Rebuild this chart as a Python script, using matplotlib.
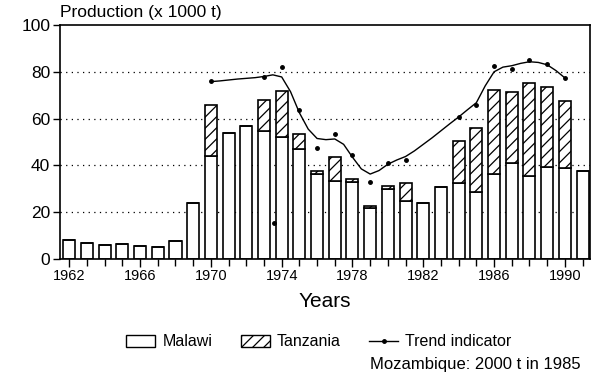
import matplotlib
matplotlib.use("Agg")
import matplotlib.pyplot as plt
from matplotlib.patches import Patch
from matplotlib.lines import Line2D

plt.rcParams['font.family'] = ['Liberation Sans', 'DejaVu Sans']
plt.rcParams['hatch.linewidth'] = 0.9

years = list(range(1962, 1992))
malawi = [8.0, 7.0, 6.1, 6.2, 5.5, 5.0, 7.6, 24.1, 43.9, 53.8, 56.8, 54.6, 52.1, 47.1,
          36.4, 33.5, 33.1, 21.9, 30.0, 24.9, 24.0, 30.8, 32.4, 28.8, 36.2, 41.2, 35.5,
          39.2, 38.7, 37.5]
total = [8.0, 7.0, 6.1, 6.2, 5.5, 5.0, 7.6, 24.1, 65.6, 53.8, 56.8, 67.9, 72.0, 53.3,
         37.7, 43.8, 34.4, 22.6, 31.0, 32.6, 24.0, 30.8, 50.6, 55.9, 72.1, 71.3, 75.1,
         73.4, 67.4, 37.5]
tanzania = [t - m for t, m in zip(total, malawi)]

trend_years = [1970, 1973, 1974, 1975, 1976, 1977, 1978, 1979, 1980, 1981,
               1984, 1985, 1986, 1987, 1988, 1989, 1990]
trend_points = [76.1, 77.9, 82.1, 63.5, 47.6, 53.5, 44.4, 33.0, 40.9, 42.2,
                60.6, 65.9, 82.3, 81.4, 85.0, 83.4, 77.3]
stray_years = [1973.56]
stray_points = [15.3]

curve_x = [1970.0, 1970.5, 1971.0, 1971.5, 1972.0, 1972.5, 1973.0, 1973.5, 1974.0,
           1974.5, 1975.0, 1975.5, 1976.0, 1976.5, 1977.0, 1977.5, 1978.0, 1978.5,
           1979.0, 1979.5, 1980.0, 1980.5, 1981.0, 1981.5, 1982.0, 1982.5, 1983.0,
           1983.5, 1984.0, 1984.5, 1985.0, 1985.5, 1986.0, 1986.5, 1987.0, 1987.5,
           1988.0, 1988.5, 1989.0, 1989.5, 1990.0]
curve_y = [75.8, 76.1, 76.5, 76.9, 77.2, 77.5, 78.0, 78.7, 77.8, 71.5, 62.5, 55.5,
           51.5, 51.0, 51.3, 49.0, 43.5, 38.5, 36.3, 37.8, 40.5, 42.3, 43.8, 46.2,
           49.0, 51.8, 54.8, 57.8, 60.7, 63.8, 66.8, 74.0, 80.0, 82.0, 82.6, 83.6,
           84.3, 84.0, 83.0, 80.5, 77.4]

yticks = [0, 20, 40, 60, 80, 100]
xlabels_years = [1962, 1966, 1970, 1974, 1978, 1982, 1986, 1990]

fig = plt.figure(figsize=(6.0, 3.81), dpi=100)
ax = fig.add_axes([60/600, 1 - 259/381, 530/600, 234/381])

ax.bar(years, malawi, width=0.68, color='white', edgecolor='black', linewidth=1.2, zorder=2)
ax.bar(years, tanzania, bottom=malawi, width=0.68, color='white', edgecolor='black',
       linewidth=1.2, hatch='///', zorder=2)

ax.plot(curve_x, curve_y, color='black', linewidth=1.0, zorder=3)
ax.plot(trend_years, trend_points, linestyle='none', marker='o', markersize=2.5,
        color='black', zorder=4)
ax.plot(stray_years, stray_points, linestyle='none', marker='o', markersize=2.5,
        color='black', zorder=4)

ax.set_xlim(1961.475, 1991.42)
ax.set_ylim(0, 100)
ax.set_yticks(yticks)
ax.set_xticks(xlabels_years)
ax.set_xticks(years, minor=True)
ax.set_xticklabels([str(y) for y in xlabels_years])
for g in [20, 40, 60, 80]:
    ax.axhline(g, color='black', linewidth=0.9, linestyle=(0, (1, 3.5)), zorder=1)

ax.tick_params(axis='y', direction='out', length=5, width=1.0, labelsize=12.5, pad=2)
ax.tick_params(axis='x', which='major', direction='inout', length=11, width=1.0,
               labelsize=10.5, pad=2)
ax.tick_params(axis='x', which='minor', direction='out', length=5, width=1.0)
for s in ax.spines.values():
    s.set_linewidth(1.2)

ax.set_xlabel('Years', fontsize=15, labelpad=6)
fig.text(60/600, 1 - 12/381, 'Production (x 1000 t)', fontsize=12.5, va='center', ha='left')

handles = [Patch(facecolor='white', edgecolor='black', linewidth=1.0),
           Patch(facecolor='white', edgecolor='black', linewidth=1.0, hatch='///'),
           Line2D([0], [0], color='black', linewidth=1.0, marker='o', markersize=2.5)]
fig.legend(handles, ['Malawi', 'Tanzania', 'Trend indicator'], ncol=3, frameon=False,
           loc='center', bbox_to_anchor=(319/600, 1 - 342/381), fontsize=11.5,
           handlelength=1.8, handleheight=0.8, columnspacing=1.8, handletextpad=0.45)
fig.text(581/600, 1 - 364/381, 'Mozambique: 2000 t in 1985', fontsize=12,
         ha='right', va='center')

fig.savefig('out.png', dpi=100)
